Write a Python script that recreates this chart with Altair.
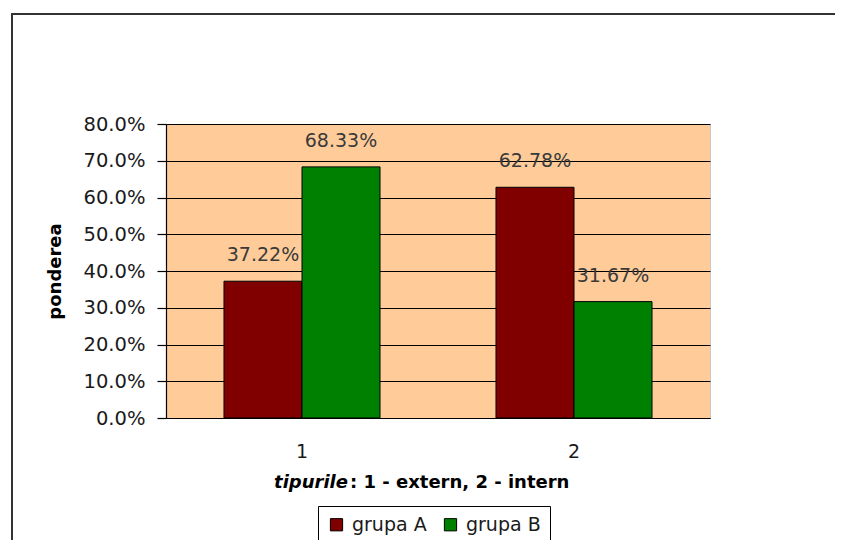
import altair as alt
import pandas as pd

# ---- data ----
categories = ["1", "2"]
groups = ["grupa A", "grupa B"]
values_A = [0.3722, 0.6278]
values_B = [0.6833, 0.3167]
labels_A = ["37.22%", "62.78%"]
labels_B = ["68.33%", "31.67%"]
y_ticks = [0.0, 0.1, 0.2, 0.3, 0.4, 0.5, 0.6, 0.7, 0.8]
colors = ["#800000", "#008000"]
x_title_italic = "tipurile"
x_title_rest = ": 1 - extern, 2 - intern"
y_title = "ponderea"

rows = []
for i, c in enumerate(categories):
    rows.append({"tip": c, "grupa": groups[0], "val": values_A[i], "lab": labels_A[i]})
    rows.append({"tip": c, "grupa": groups[1], "val": values_B[i], "lab": labels_B[i]})
df = pd.DataFrame(rows)

FONT = "DejaVu Sans"
W, H = 544, 294

x_enc = alt.X(
    "tip:N",
    sort=categories,
    scale=alt.Scale(paddingInner=0.4264, paddingOuter=0.2132),
    axis=alt.Axis(
        title=None, labelAngle=0, ticks=False, labelPadding=24,
        labelFont=FONT, labelFontSize=19, labelColor="#1a1a1a",
        domainColor="#000000", domainWidth=1.2,
    ),
)
xo_enc = alt.XOffset("grupa:N", sort=groups, scale=alt.Scale(paddingInner=0, paddingOuter=0))
y_enc = alt.Y(
    "val:Q",
    scale=alt.Scale(domain=[0, 0.8], nice=False, zero=True),
    axis=alt.Axis(
        values=y_ticks, format=".1%", title=y_title, labelOverlap=False,
        tickSize=9, tickColor="#000000", tickWidth=1.2,
        labelPadding=12, labelFont=FONT, labelFontSize=19.5, labelColor="#1a1a1a",
        domainColor="#000000", domainWidth=1.2,
        grid=True, gridColor="#000000", gridWidth=1.2,
        titleFont=FONT, titleFontSize=18, titleFontWeight="bold", titleColor="#000000",
        titleAngle=270, titleAlign="center", titleBaseline="middle",
        titleX=-111, titleY=147,
    ),
)

bars = alt.Chart(df).mark_bar(stroke="#000000", strokeWidth=1).encode(
    x=x_enc,
    xOffset=xo_enc,
    y=y_enc,
    color=alt.Color(
        "grupa:N",
        scale=alt.Scale(domain=groups, range=colors),
        legend=alt.Legend(
            title=None, orient="none", legendX=152, legendY=382,
            direction="horizontal", columns=2, columnPadding=14,
            symbolType="square", symbolSize=150, symbolStrokeColor="#000000",
            symbolStrokeWidth=1, symbolOffset=0, labelOffset=6,
            labelFont=FONT, labelFontSize=19, labelColor="#1a1a1a",
            strokeColor="#000000", fillColor="#ffffff", padding=9,
        ),
    ),
)

labels = alt.Chart(df).mark_text(
    baseline="bottom", dy=-16, font=FONT, fontSize=19, color="#3a3a3a"
).encode(
    x=x_enc,
    xOffset=xo_enc,
    y=y_enc,
    text="lab:N",
)

title_df = pd.DataFrame({"a": [x_title_italic], "b": [x_title_rest]})
t1 = alt.Chart(title_df).mark_text(
    align="right", baseline="alphabetic", font=FONT, fontSize=18,
    fontWeight="bold", fontStyle="italic", color="#000000",
).encode(x=alt.value(182), y=alt.value(364), text="a:N")
t2 = alt.Chart(title_df).mark_text(
    align="left", baseline="alphabetic", font=FONT, fontSize=18,
    fontWeight="bold", color="#000000",
).encode(x=alt.value(184), y=alt.value(364), text="b:N")

frame_df = pd.DataFrame({"k": [1]})
frame_top = alt.Chart(frame_df).mark_rule(color="#333333", strokeWidth=2).encode(
    x=alt.value(-155), x2=alt.value(800), y=alt.value(-110)
)
frame_left = alt.Chart(frame_df).mark_rule(color="#333333", strokeWidth=2).encode(
    x=alt.value(-154), y=alt.value(-111), y2=alt.value(600)
)

chart = alt.layer(frame_top, frame_left, bars, labels, t1, t2).properties(
    width=W, height=H,
    autosize=alt.AutoSizeParams(type="none"),
    padding={"left": 158, "top": 116, "right": 125, "bottom": 122},
    background="#ffffff",
).configure_view(
    fill="#FFCC99", stroke="#c8c8c8", strokeWidth=1
)

chart.save("out.html", embed_options={"renderer": "svg", "actions": False})
